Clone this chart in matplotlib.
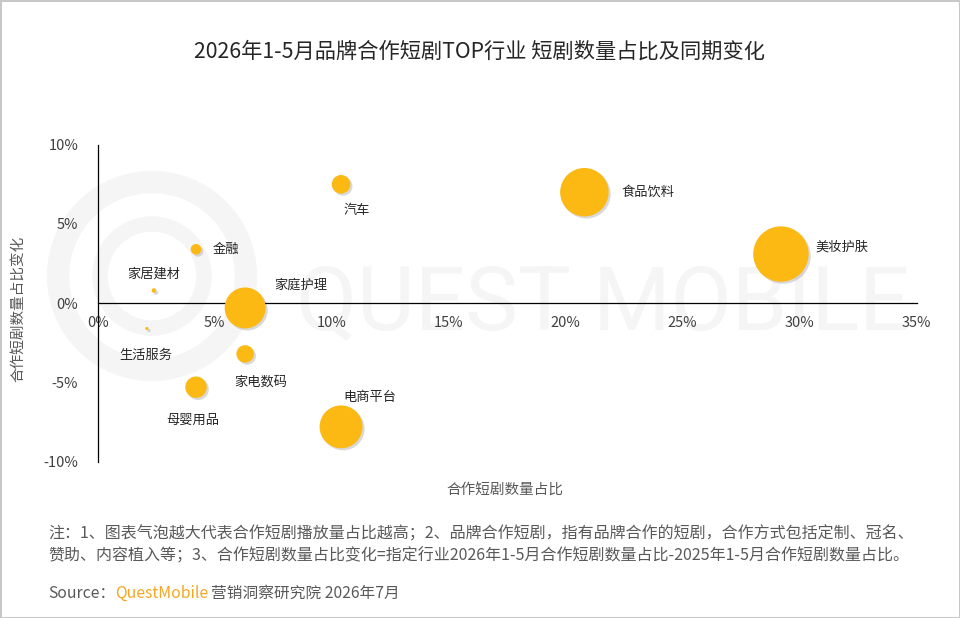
import numpy as np
import matplotlib
matplotlib.use('Agg')
import matplotlib.pyplot as plt
import matplotlib.transforms as mtransforms
from matplotlib.patches import Circle, Rectangle
from matplotlib.ticker import FuncFormatter

plt.rcParams['font.family'] = ['Noto Sans CJK SC', 'DejaVu Sans']

# data
industries = ['汽车', '食品饮料', '美妆护肤', '电商平台', '家庭护理',
              '金融', '家居建材', '生活服务', '家电数码', '母婴用品']
share = [10.4, 20.8, 29.2, 10.4, 6.3, 4.2, 2.4, 2.1, 6.3, 4.2]          # 合作短剧数量占比 %
change = [7.5, 7.0, 3.1, -7.8, -0.3, 3.4, 0.8, -1.6, -3.2, -5.3]        # 占比变化 %
play = [3.4, 23.0, 30.0, 18.0, 16.4, 1.1, 0.2, 0.1, 3.0, 4.5]           # 播放量占比 (bubble size)

# label offsets in points, alignment
lab_off = [(11, -19, 'center'), (27, 0, 'left'), (25, 5, 'left'), (2, 21, 'left'),
           (21, 16, 'left'), (12, 0, 'left'), (0, 12, 'center'), (-1, -19, 'center'),
           (-8, -20, 'left'), (-2, -24, 'center')]

yellow = '#FDB913'
grey = '#595959'
wm = '#f5f5f5'

fig = plt.figure(figsize=(9.6, 6.18), dpi=100)

# background watermark, pixel coords
bg = fig.add_axes([0, 0, 1, 1], zorder=-1)
bg.set_xlim(0, 960)
bg.set_ylim(618, 0)
bg.axis('off')
bg.add_patch(Circle((152, 276), 94, fill=False, ec=wm, lw=16))
bg.add_patch(Circle((152, 276), 52, fill=False, ec=wm, lw=11))
bg.text(603, 305, 'QUEST MOBILE', fontsize=64, color=wm, ha='center', va='center',
        family='Roboto')
bg.add_patch(Rectangle((0.5, 0.5), 959, 617, fill=False, ec='#c8c8c8', lw=1.5))

ax = fig.add_axes([0.1018, 0.2529, 0.853, 0.513])
ax.patch.set_alpha(0)
ax.set_xlim(0, 35)
ax.set_ylim(-10, 10)

sizes = np.array(play) * 53
shadow = mtransforms.offset_copy(ax.transData, fig=fig, x=1.5, y=-1.5, units='points')
ax.scatter(share, change, s=sizes, color='#a0a0a0', alpha=0.4, lw=0, transform=shadow, zorder=2)
ax.scatter(share, change, s=sizes, color=yellow, lw=0, zorder=3)

for name, x, y, (dx, dy, ha) in zip(industries, share, change, lab_off):
    ax.annotate(name, (x, y), xytext=(dx, dy), textcoords='offset points', ha=ha, va='center',
                fontsize=9.5, color='#262626', zorder=4)

ax.spines['left'].set_position(('data', 0))
ax.spines['bottom'].set_position(('data', 0))
ax.spines['right'].set_visible(False)
ax.spines['top'].set_visible(False)
for s in ['left', 'bottom']:
    ax.spines[s].set_color('#000000')
    ax.spines[s].set_linewidth(0.9)

ax.set_xticks(np.arange(0, 36, 5))
ax.set_yticks(np.arange(-10, 11, 5))
pct = FuncFormatter(lambda v, p: '%d%%' % v)
ax.xaxis.set_major_formatter(pct)
ax.yaxis.set_major_formatter(pct)
ax.tick_params(length=0, labelsize=10.5, labelcolor='#404040')
ax.tick_params(axis='x', pad=9)
ax.tick_params(axis='y', pad=14)

fig.text(0.526, 0.207, '合作短剧数量占比', fontsize=10.5, color=grey, ha='center', va='center')
fig.text(0.019, 0.50, '合作短剧数量占比变化', fontsize=10.5, color=grey, ha='center', va='center',
         rotation=90)

fig.text(0.5, 0.917, '2026年1-5月品牌合作短剧TOP行业 短剧数量占比及同期变化', fontsize=15.3,
         color='#262626', ha='center', va='center')

fig.text(0.05, 0.136, '注：1、图表气泡越大代表合作短剧播放量占比越高；2、品牌合作短剧，指有品牌合作的短剧，合作方式包括定制、冠名、',
         fontsize=11.5, color=grey, va='center')
fig.text(0.05, 0.100, '赞助、内容植入等；3、合作短剧数量占比变化=指定行业2026年1-5月合作短剧数量占比-2025年1-5月合作短剧数量占比。',
         fontsize=11.5, color=grey, va='center')

t1 = fig.text(0.05, 0.040, 'Source：', fontsize=11.3, color=grey, va='center')
t2 = fig.text(0, 0.040, 'QuestMobile', fontsize=11.3, color='#F5A623', va='center')
t3 = fig.text(0, 0.040, '营销洞察研究院 2026年7月', fontsize=11.3, color=grey, va='center')
fig.canvas.draw()
r = fig.canvas.get_renderer()
inv = fig.transFigure.inverted()
x1 = inv.transform((t1.get_window_extent(r).x1, 0))[0]
t2.set_x(x1)
x2 = inv.transform((t2.get_window_extent(r).x1, 0))[0]
t3.set_x(x2 + 0.003)

fig.savefig('out.png', dpi=100, facecolor='white')
